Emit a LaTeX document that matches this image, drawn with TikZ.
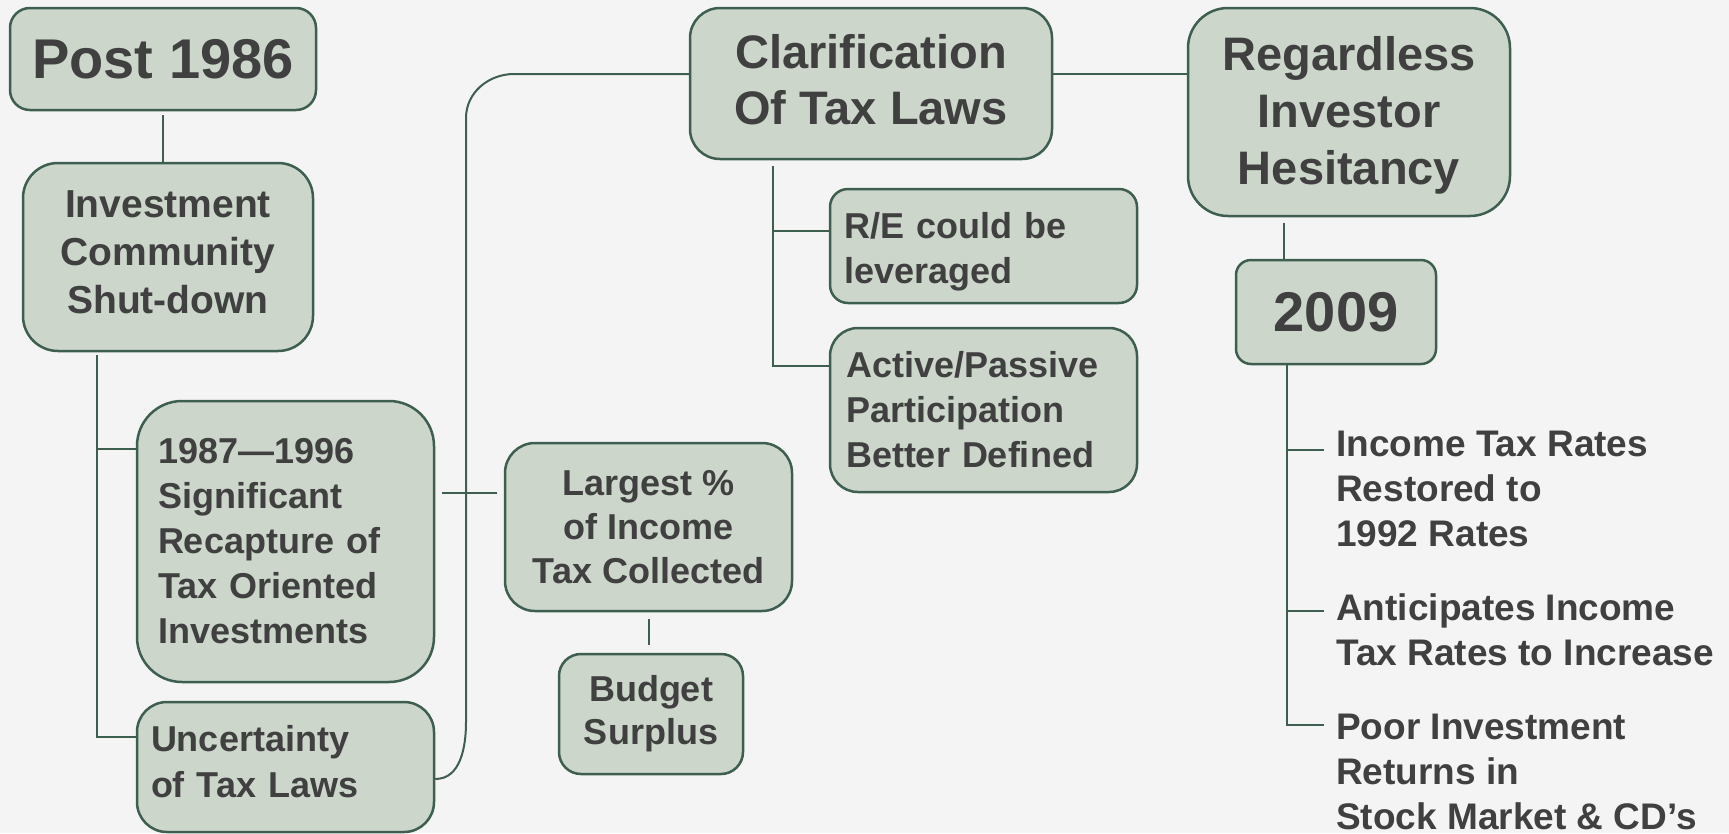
\documentclass[tikz,border=0pt]{standalone}
\usepackage{fontspec}
\setmainfont{Liberation Sans}
\usetikzlibrary{positioning}
\definecolor{paperGray}{RGB}{244,244,244}
\definecolor{sageFill}{RGB}{204,214,203}
\definecolor{sageEdge}{RGB}{62,94,79}
\definecolor{inkGray}{RGB}{64,64,64}
\newcommand{\fsz}[2]{\fontsize{#1}{#2}\selectfont\bfseries}
\tikzset{
  box/.style={draw=sageEdge, fill=sageFill, line width=2.5pt, rounded corners=#1, inner sep=0pt, text=inkGray},
  box/.default=25pt,
  link/.style={draw=sageEdge, line width=2pt},
  item/.style={inner sep=0pt, text=inkGray, align=left, anchor=base west, font=\fsz{37}{45}}
}

\begin{document}
\begin{tikzpicture}[x=1pt, y=-1pt]

  \clip (0,0) rectangle (1729,833); % the slide
  \fill[paperGray] (0,0) rectangle (1729,833);

  \node[box=20pt, minimum width=306pt, minimum height=102pt, font=\fsz{56}{60}] (post) at (163,59) {Post 1986};
  \node[box=35pt, minimum width=290pt, minimum height=188pt, align=center, text depth=9pt, font=\fsz{39}{48}] (invest) at (168,257) {Investment\\Community\\Shut-down};
  \node[box=45pt, minimum width=297pt, minimum height=281pt, text width=255pt, align=left, font=\fsz{36}{45}] (recap) at (285.5,541.5) {1987—1996\\Significant\\Recapture of\\Tax Oriented\\Investments};
  \node[box=30pt, minimum width=297pt, minimum height=130pt, text width=269pt, align=left, text depth=57pt, font=\fsz{36}{46}] (uncert) at (285.5,767) {Uncertainty\\of Tax Laws};

  \node[box=30pt, minimum width=287pt, minimum height=168pt, align=center, font=\fsz{36}{44}] (largest) at (648.5,527) {Largest \%\\of Income\\Tax Collected};
  \node[box=22pt, minimum width=184pt, minimum height=120pt, align=center, font=\fsz{36}{43}] (budget) at (651,714) {Budget\\Surplus};

  \node[box=30pt, minimum width=362pt, minimum height=151pt, align=center, text depth=9pt, font=\fsz{47}{56}] (clarif) at (871,83.5) {Clarification\\Of Tax Laws};
  \node[box=18pt, minimum width=307pt, minimum height=114pt, text width=279pt, align=left, text height=37pt, font=\fsz{36}{45}] (leverage) at (983.5,246) {R/E could be\\leveraged};
  \node[box=28pt, minimum width=307pt, minimum height=164pt, text width=275pt, align=left, font=\fsz{36}{45}] (active) at (983.5,410) {Active/Passive\\Participation\\Better Defined};

  \node[box=40pt, minimum width=322pt, minimum height=208pt, align=center, text depth=3pt, font=\fsz{47}{57}] (regard) at (1349,112) {Regardless\\Investor\\Hesitancy};
  \node[box=15pt, minimum width=200pt, minimum height=104pt, font=\fsz{56}{60}] (yr2009) at (1336,312) {2009};

  \node[item] (itemRates) at (1336,546) {Income Tax Rates\\Restored to\\1992 Rates};
  \node[item] (itemAnticip) at (1336,665) {Anticipates Income\\Tax Rates to Increase};
  \node[item] (itemPoor) at (1336,829) {Poor Investment\\Returns in\\Stock Market \& CD’s};

  % connectors
  \coordinate (investTrunk) at (97,355);
  \coordinate (clarifTrunk) at (773,166);
  \coordinate (yearTrunk) at (1287,364);

  \draw[link, shorten <=4pt] (post.south) -- (post.south |- invest.north);
  \draw[link] (investTrunk) |- (recap.west |- 0,449);
  \draw[link] (investTrunk) |- (uncert.west |- 0,737);

  \draw[link] (clarif.west |- 0,74) -- (514,74) to[out=180,in=90] (466,118)
    -- (466,722) to[out=-90,in=0] (uncert.east |- 0,779);
  \draw[link, shorten <=7pt, shorten >=7pt] (recap.east |- 0,493) -- (largest.west |- 0,493);
  \draw[link, shorten <=7pt, shorten >=8pt] (largest.south) -- (largest.south |- budget.north);

  \draw[link] (clarifTrunk) |- (leverage.west |- 0,231);
  \draw[link] (clarifTrunk) |- (active.west |- 0,366);
  \draw[link] (clarif.east |- 0,74) -- (regard.west |- 0,74);

  \draw[link, shorten <=6pt] (regard.south -| 1284,0) -- (yr2009.north -| 1284,0);
  \foreach \n/\y in {itemRates/450, itemAnticip/611, itemPoor/725}
    \draw[link, shorten >=12pt] (yearTrunk) |- (\n.west |- 0,\y);

\end{tikzpicture}
\end{document}
